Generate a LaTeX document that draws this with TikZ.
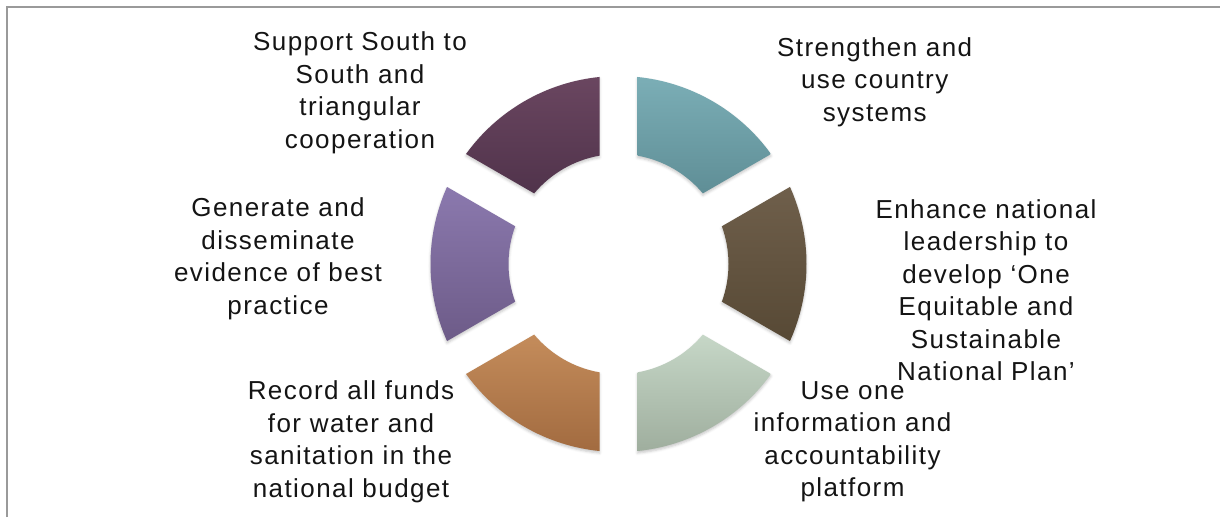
\documentclass[tikz,border=0pt]{standalone}
\usepackage{fontspec}
\setmainfont{Liberation Sans}[LetterSpace=5.5]
\usetikzlibrary{calc,shadows.blur}
\definecolor{tealT}{HTML}{7BAEB6}\definecolor{tealB}{HTML}{5F8E96}
\definecolor{brownT}{HTML}{6F5F4B}\definecolor{brownB}{HTML}{574935}
\definecolor{sageT}{HTML}{C6D7C7}\definecolor{sageB}{HTML}{9FAE9E}
\definecolor{orangeT}{HTML}{C48C5B}\definecolor{orangeB}{HTML}{A26B40}
\definecolor{purpleT}{HTML}{8B79AE}\definecolor{purpleB}{HTML}{6D5B88}
\definecolor{plumT}{HTML}{6A4660}\definecolor{plumB}{HTML}{50334B}
\definecolor{frameGray}{HTML}{9A9A9A}
\tikzset{
  seg/.style={draw=none, blur shadow={shadow xshift=0pt, shadow yshift=-2pt, shadow blur radius=2.5pt, shadow opacity=22}},
  lbl/.style={align=center, inner sep=0pt, text=black!92, font=\fontsize{26}{32.5}\selectfont},
  framelines/.style={draw=frameGray, line width=2pt},
}
\newcommand\RingSeg[3]{%
  \pgfmathsetmacro\segSA{#1-\gapO}%
  \pgfmathsetmacro\segEA{#1-60+\gapO}%
  \pgfmathsetmacro\segSI{#1-60+\gapI}%
  \pgfmathsetmacro\segEI{#1-\gapI}%
  \path[seg, top color=#2, bottom color=#3]
    ($(O)+(\segSA:\Rout pt)$) arc[start angle=\segSA, end angle=\segEA, radius=\Rout pt]
    -- ($(O)+(\segSI:\Rin pt)$) arc[start angle=\segSI, end angle=\segEI, radius=\Rin pt] -- cycle;
}
\begin{document}
\begin{tikzpicture}[x=1pt,y=1pt]
\useasboundingbox (0,0) rectangle (1220,517);
\coordinate (O) at (618.5,253);
\coordinate (fa) at (7,0);
\coordinate (fb) at (7,509.5);
\coordinate (fc) at (1220,509.5);
\draw[framelines] (fa) -- (fb) -- (fc);
\pgfmathsetmacro\Rout{188}
\pgfmathsetmacro\Rin{110}
\pgfmathsetmacro\gapO{asin(19/\Rout)}
\pgfmathsetmacro\gapI{asin(19/\Rin)}
\RingSeg{90}{tealT}{tealB}
\RingSeg{30}{brownT}{brownB}
\RingSeg{-30}{sageT}{sageB}
\RingSeg{-90}{orangeT}{orangeB}
\RingSeg{-150}{purpleT}{purpleB}
\RingSeg{150}{plumT}{plumB}
\node[lbl] (t1) at (360,424) {Support South to\\South and\\triangular\\cooperation};
\node[lbl] (t2) at (874.7,435) {Strengthen and\\use country\\systems};
\node[lbl] (t3) at (986,227) {Enhance national\\leadership to\\develop ‘One\\Equitable and\\Sustainable\\National Plan’};
\node[lbl] (t4) at (852.5,75) {Use one\\information and\\accountability\\platform};
\node[lbl] (t5) at (351,75) {Record all funds\\for water and\\sanitation in the\\national budget};
\node[lbl] (t6) at (278,258) {Generate and\\disseminate\\evidence of best\\practice};
\end{tikzpicture}
\end{document}
